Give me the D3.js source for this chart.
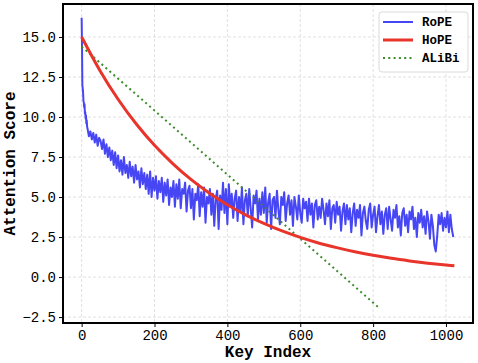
<!DOCTYPE html>
<html>
<head>
<meta charset="utf-8">
<script src="https://cdn.jsdelivr.net/npm/d3@7"></script>
<style>
  body { margin: 0; background: #fff; }
  text { font-family: "Liberation Mono", "DejaVu Sans Mono", monospace; }
</style>
</head>
<body>
<div class="container"></div>
<script>
// RoPE: first keys one by one, then every 4 keys from 16
var ropeHead = [16.2, 14.5, 12.0, 11.8, 11.5, 11.0, 10.9, 10.6, 10.8, 10.2, 10.3, 9.9, 10.1, 9.6, 9.8, 9.4];
var ropeStart = 16;
var ropeStep = 4;
var ropeTail = [
  9.3, 8.8, 9.1, 8.6, 9.0, 8.4, 8.9, 8.2, 8.7, 8.5,
  8.0, 8.6, 7.7, 8.3, 7.5, 8.1, 7.3, 7.9, 7.0, 7.8,
  6.8, 7.6, 6.6, 7.3, 6.4, 7.5, 6.5, 7.0, 6.2, 7.2,
  6.3, 6.9, 5.9, 7.0, 6.1, 6.6, 5.6, 6.8, 5.8, 6.5,
  5.5, 6.4, 5.2, 6.6, 5.0, 6.2, 5.4, 6.3, 4.9, 6.0,
  5.3, 6.2, 4.7, 5.9, 5.1, 6.1, 4.5, 5.6, 5.0, 6.0,
  4.4, 5.8, 4.9, 6.1, 4.3, 5.5, 5.2, 5.9, 4.1, 5.4,
  5.7, 4.3, 5.5, 3.6, 5.2, 4.8, 5.8, 3.8, 5.3, 4.4,
  5.6, 3.4, 5.0, 4.6, 5.5, 3.9, 5.2, 3.2, 4.9, 5.4,
  3.0, 5.1, 4.2, 5.9, 4.0, 5.5, 3.3, 5.8, 4.4, 5.2,
  3.7, 4.9, 5.4, 3.5, 5.0, 4.1, 5.6, 3.3, 4.8, 5.2,
  3.8, 5.5, 4.3, 3.1, 5.1, 4.6, 5.4, 3.6, 4.9, 3.9,
  5.3, 4.0, 5.6, 3.4, 4.7, 5.2, 3.0, 4.8, 5.0, 3.7,
  5.4, 4.2, 3.3, 5.0, 4.5, 5.3, 3.5, 4.6, 5.1, 3.9,
  4.8, 3.2, 5.0, 4.4, 3.6, 5.1, 4.0, 3.4, 4.9, 4.3,
  4.7, 3.5, 4.9, 3.9, 4.6, 3.1, 4.5, 4.8, 3.6, 4.4,
  3.7, 4.9, 4.2, 3.3, 4.6, 3.8, 4.8, 3.0, 4.3, 4.5,
  3.4, 4.7, 3.9, 4.4, 2.9, 4.1, 4.6, 3.3, 4.5, 3.6,
  4.3, 2.8, 4.0, 4.6, 3.2, 4.2, 3.7, 4.5, 2.6, 4.0,
  4.4, 3.5, 3.0, 4.2, 4.6, 3.1, 3.9, 4.4, 2.8, 3.8,
  4.5, 3.3, 4.1, 2.7, 3.9, 4.3, 3.0, 4.4, 3.6, 2.9,
  4.2, 3.7, 4.5, 3.1, 3.8, 2.6, 4.0, 4.3, 3.2, 3.9,
  2.8, 4.1, 3.6, 4.4, 3.0, 3.7, 2.5, 4.0, 3.4, 4.2,
  3.1, 3.8, 2.7, 4.1, 3.5, 2.4, 3.9, 3.2, 2.0, 1.6,
  2.6, 3.9, 3.3, 4.0, 2.9, 3.7, 3.1, 4.1, 2.8, 3.9,
  3.0, 2.5
];

var hopeKeys = [0, 50, 100, 150, 200, 250, 300, 350, 400, 450, 500, 550, 600, 650, 700, 750, 800, 850, 900, 950, 1000, 1023];
var hopeVals = [15.00, 12.91, 11.11, 9.56, 8.23, 7.09, 6.10, 5.25, 4.52, 3.89, 3.35, 2.88, 2.48, 2.13, 1.84, 1.58, 1.36, 1.17, 1.01, 0.87, 0.75, 0.70];

var alibiKeys = [0, 815];
var alibiVals = [14.4, -1.9];

var xTicks = [0, 200, 400, 600, 800, 1000];
var yTicks = [-2.5, 0, 2.5, 5, 7.5, 10, 12.5, 15];

var w = 478, h = 363;
var pl = 63, pr = 473, pt = 4, pb = 323;

var rope = [];
for (var i = 0; i < ropeHead.length; i++) rope.push([i, ropeHead[i]]);
for (var j = 0; j < ropeTail.length; j++) rope.push([ropeStart + j * ropeStep, ropeTail[j]]);
var hope = hopeKeys.map(function(k, i) { return [k, hopeVals[i]]; });
var alibi = alibiKeys.map(function(k, i) { return [k, alibiVals[i]]; });

var svg = d3.select(".container").append("svg")
    .attr("width", w).attr("height", h);

var x = d3.scaleLinear().domain([-51.15, 1074.15]).range([pl, pr]);
var y = d3.scaleLinear().domain([-2.87, 17.06]).range([pb, pt]);

// grid
svg.append("g").selectAll("line").data(xTicks).enter().append("line")
    .attr("x1", function(d) { return x(d); }).attr("x2", function(d) { return x(d); })
    .attr("y1", pt).attr("y2", pb)
    .attr("stroke", "#d8d8d8").attr("stroke-width", 0.8).attr("stroke-dasharray", "3,2");
svg.append("g").selectAll("line").data(yTicks).enter().append("line")
    .attr("y1", function(d) { return y(d); }).attr("y2", function(d) { return y(d); })
    .attr("x1", pl).attr("x2", pr)
    .attr("stroke", "#d8d8d8").attr("stroke-width", 0.8).attr("stroke-dasharray", "3,2");

var line = d3.line().x(function(d) { return x(d[0]); }).y(function(d) { return y(d[1]); });

svg.append("path").datum(rope).attr("d", line)
    .attr("fill", "none").attr("stroke", "#4646f5")
    .attr("stroke-width", 2).attr("stroke-linejoin", "round");

svg.append("path").datum(alibi).attr("d", line)
    .attr("fill", "none").attr("stroke", "#3c8c2c").attr("stroke-width", 2)
    .attr("stroke-dasharray", "2,3.3");

svg.append("path").datum(hope)
    .attr("d", d3.line().x(function(d) { return x(d[0]); }).y(function(d) { return y(d[1]); }).curve(d3.curveMonotoneX))
    .attr("fill", "none").attr("stroke", "#e8342a").attr("stroke-width", 3);

// axes
var xAxis = d3.axisBottom(x).tickValues(xTicks).tickSize(4).tickPadding(3).tickFormat(d3.format("d"));
var yAxis = d3.axisLeft(y).tickValues(yTicks).tickSize(4).tickPadding(3).tickFormat(d3.format(".1f"));

var gx = svg.append("g").attr("transform", "translate(0," + pb + ")").call(xAxis);
var gy = svg.append("g").attr("transform", "translate(" + pl + ",0)").call(yAxis);
[gx, gy].forEach(function(g) {
  g.select(".domain").remove();
  g.selectAll("text").attr("font-size", "14px").attr("fill", "#000")
    .attr("font-family", "Liberation Mono, monospace");
  g.selectAll("line").attr("stroke", "#000");
});

svg.append("rect").attr("x", pl).attr("y", pt)
    .attr("width", pr - pl).attr("height", pb - pt)
    .attr("fill", "none").attr("stroke", "#000").attr("stroke-width", 2);

svg.append("text").text("Key Index")
    .attr("x", (pl + pr) / 2).attr("y", 357)
    .attr("text-anchor", "middle").attr("font-size", "16px").attr("font-weight", "bold");

svg.append("text").text("Attention Score")
    .attr("transform", "translate(15," + ((pt + pb) / 2) + ")rotate(-90)")
    .attr("text-anchor", "middle").attr("font-size", "16px").attr("font-weight", "bold");

// legend
var legend = [
  { name: "RoPE", color: "#4646f5", width: 2, dash: null },
  { name: "HoPE", color: "#e8342a", width: 3, dash: null },
  { name: "ALiBi", color: "#3c8c2c", width: 2, dash: "2,3.3" }
];
var lg = svg.append("g");
lg.append("rect").attr("x", 379).attr("y", 12).attr("width", 89).attr("height", 60)
    .attr("rx", 3).attr("fill", "#fff").attr("fill-opacity", 0.85)
    .attr("stroke", "#d0d0d0").attr("stroke-width", 0.8);
lg.selectAll("line").data(legend).enter().append("line")
    .attr("x1", 383).attr("x2", 413)
    .attr("y1", function(d, i) { return 22 + i * 18; })
    .attr("y2", function(d, i) { return 22 + i * 18; })
    .attr("stroke", function(d) { return d.color; })
    .attr("stroke-width", function(d) { return d.width; })
    .attr("stroke-dasharray", function(d) { return d.dash; });
lg.selectAll("text").data(legend).enter().append("text")
    .text(function(d) { return d.name; })
    .attr("x", 422).attr("y", function(d, i) { return 26 + i * 18; })
    .attr("font-size", "12.5px").attr("font-weight", "bold");
</script>
</body>
</html>
